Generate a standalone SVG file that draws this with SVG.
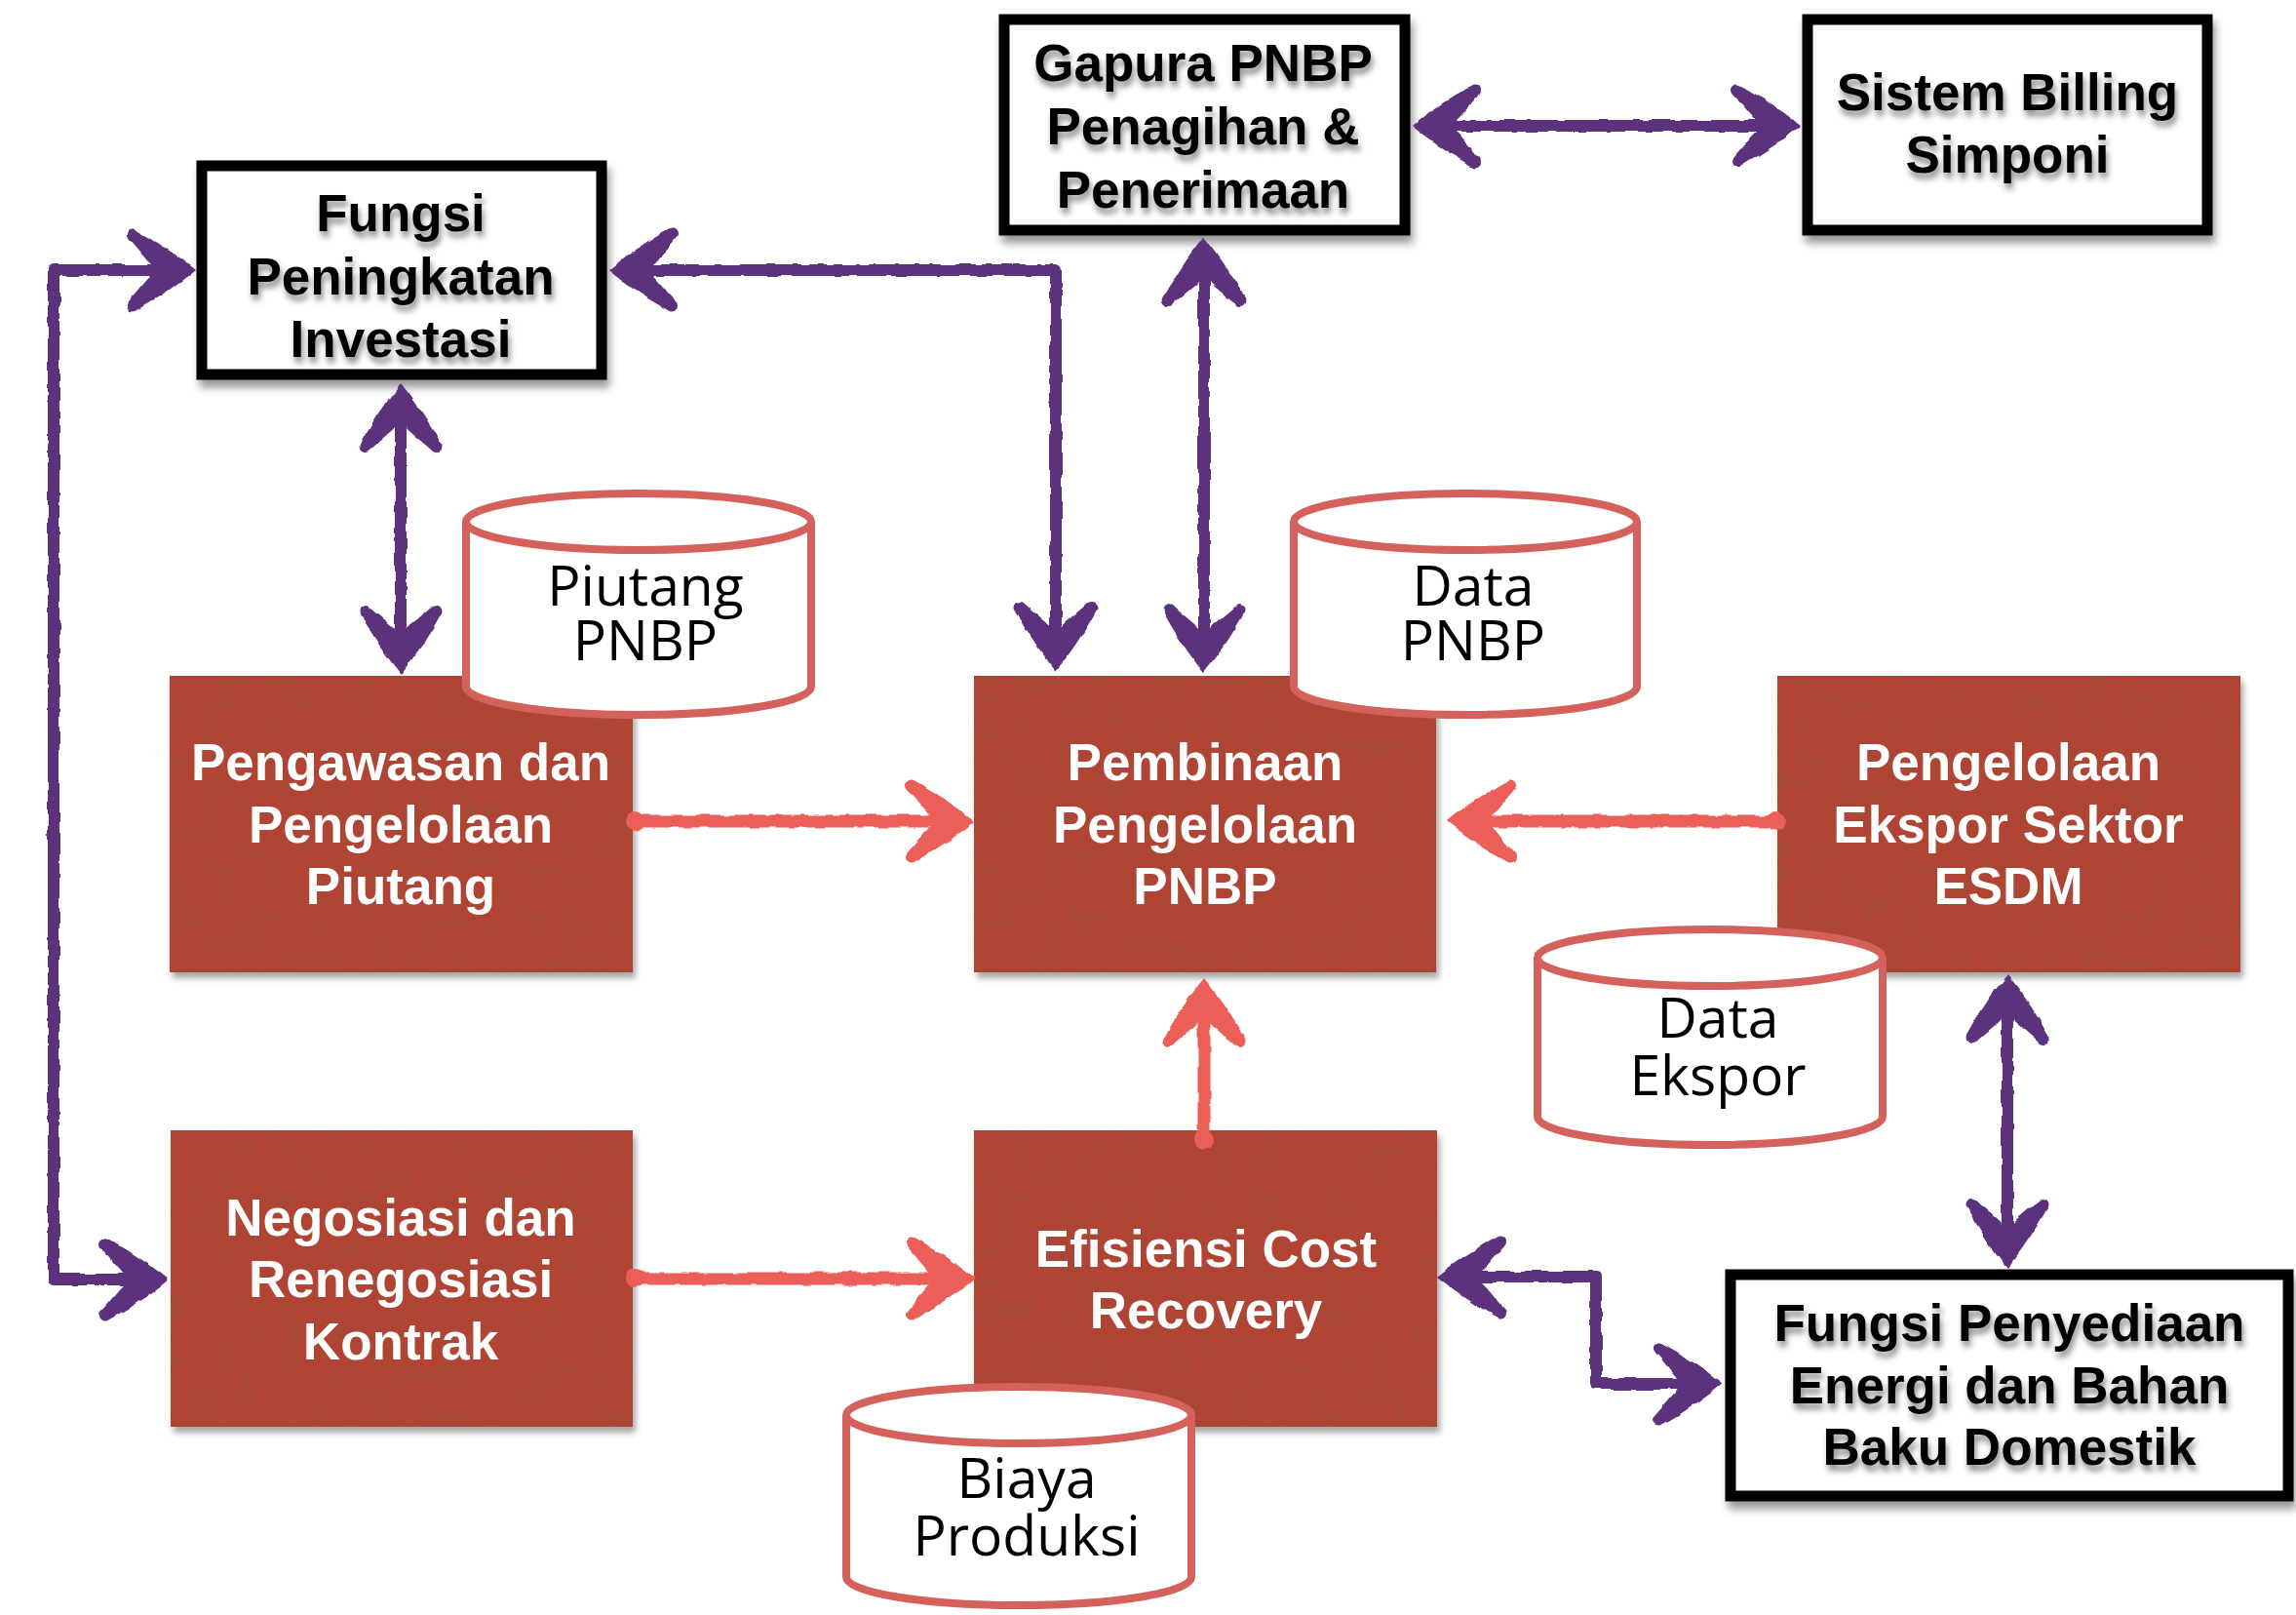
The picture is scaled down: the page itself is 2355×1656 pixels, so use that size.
<svg xmlns="http://www.w3.org/2000/svg" width="2355" height="1656" viewBox="0 0 2355 1656">
  <defs>
    <style>
      .frame { fill: #ffffff; stroke: #000000; stroke-width: 11; filter: url(#boxShadow); }
      .redbox { fill: #B04434; filter: url(#paper); }
      .btxt { font-family: "Liberation Sans", Arial, sans-serif; font-weight: bold; font-size: 53px; text-anchor: middle; }
      .dark { fill: #000000; filter: url(#textShadow); }
      .light { fill: #ffffff; }
      .cyl { fill: #ffffff; stroke: #D4615C; stroke-width: 8; stroke-linejoin: round; }
      .cyltxt { font-family: "Open Sans", "Noto Sans", sans-serif; font-size: 57px; fill: #000000; text-anchor: middle; }
      .purple { fill: none; stroke: #5D327D; stroke-width: 12; stroke-linejoin: round; marker-start: url(#headP); marker-end: url(#headP); }
      .red { fill: none; stroke: #EB5F58; stroke-width: 13; stroke-linejoin: round; marker-start: url(#dotR); marker-end: url(#headR); }
    </style>
    <filter id="boxShadow" x="-5%" y="-5%" width="112%" height="118%">
      <feDropShadow dx="3" dy="8" stdDeviation="4" flood-color="#000" flood-opacity="0.4"/>
    </filter>
    <filter id="textShadow" x="-5%" y="-20%" width="112%" height="160%">
      <feDropShadow dx="2" dy="6" stdDeviation="3" flood-color="#000" flood-opacity="0.45"/>
    </filter>
    <filter id="paper" x="-3%" y="-3%" width="108%" height="110%">
      <feTurbulence type="fractalNoise" baseFrequency="0.045" numOctaves="4" seed="7" result="noise"/>
      <feColorMatrix in="noise" type="matrix" values="0 0 0 0 0.3  0 0 0 0 0.08  0 0 0 0 0.05  0.7 0 0 0 -0.3" result="spots"/>
      <feComposite in="spots" in2="SourceAlpha" operator="in" result="tex"/>
      <feGaussianBlur in="SourceAlpha" stdDeviation="3" result="sb"/>
      <feOffset in="sb" dx="3" dy="6" result="so"/>
      <feFlood flood-color="#000" flood-opacity="0.35"/>
      <feComposite in2="so" operator="in" result="shadow"/>
      <feMerge>
        <feMergeNode in="shadow"/>
        <feMergeNode in="SourceGraphic"/>
        <feMergeNode in="tex"/>
      </feMerge>
    </filter>
    <filter id="rough" filterUnits="userSpaceOnUse" x="0" y="0" width="2355" height="1656">
      <feTurbulence type="fractalNoise" baseFrequency="0.06" numOctaves="2" seed="2" result="t"/>
      <feDisplacementMap in="SourceGraphic" in2="t" scale="5" xChannelSelector="R" yChannelSelector="G"/>
    </filter>
    <!-- swept sketch arrowhead: tip at x=46, barbs reach back to x=-22; line end sits at x=16 -->
    <marker id="headP" markerUnits="userSpaceOnUse" markerWidth="100" markerHeight="100" refX="16" refY="0" orient="auto-start-reverse" overflow="visible">
      <path fill="#5D327D" d="M46,0 C34,-10 12,-26 -15,-41 A6,6 0 0 0 -23,-32 C-12,-20 -5,-10 0,-6 L0,6 C-5,10 -12,20 -23,32 A6,6 0 0 0 -15,41 C12,26 34,10 46,0 Z"/>
    </marker>
    <marker id="headR" markerUnits="userSpaceOnUse" markerWidth="100" markerHeight="100" refX="16" refY="0" orient="auto" overflow="visible">
      <path fill="#EB5F58" d="M46,0 C34,-10 12,-26 -15,-41 A6,6 0 0 0 -23,-32 C-12,-20 -5,-10 0,-6 L0,6 C-5,10 -12,20 -23,32 A6,6 0 0 0 -15,41 C12,26 34,10 46,0 Z"/>
    </marker>
    <marker id="dotR" markerUnits="userSpaceOnUse" markerWidth="30" markerHeight="30" refX="0" refY="0" orient="auto" overflow="visible">
      <circle cx="0" cy="0" r="10" fill="#EB5F58"/>
    </marker>
  </defs>

  <rect width="2355" height="1656" fill="#ffffff"/>

  <!-- process boxes -->
  <g id="pengawasan">
    <rect class="redbox" x="174" y="693" width="475" height="304"/>
    <text class="btxt light" x="411" y="800">Pengawasan dan</text>
    <text class="btxt light" x="411" y="864">Pengelolaan</text>
    <text class="btxt light" x="411" y="927">Piutang</text>
  </g>
  <g id="pembinaan">
    <rect class="redbox" x="999" y="693" width="474" height="304"/>
    <text class="btxt light" x="1236" y="800">Pembinaan</text>
    <text class="btxt light" x="1236" y="864">Pengelolaan</text>
    <text class="btxt light" x="1236" y="927">PNBP</text>
  </g>
  <g id="ekspor">
    <rect class="redbox" x="1823" y="693" width="475" height="304"/>
    <text class="btxt light" x="2060" y="800">Pengelolaan</text>
    <text class="btxt light" x="2060" y="864">Ekspor Sektor</text>
    <text class="btxt light" x="2060" y="927">ESDM</text>
  </g>
  <g id="negosiasi">
    <rect class="redbox" x="175" y="1159" width="474" height="304"/>
    <text class="btxt light" x="411" y="1267">Negosiasi dan</text>
    <text class="btxt light" x="411" y="1330">Renegosiasi</text>
    <text class="btxt light" x="411" y="1394">Kontrak</text>
  </g>
  <g id="efisiensi">
    <rect class="redbox" x="999" y="1159" width="475" height="304"/>
    <text class="btxt light" x="1237" y="1299">Efisiensi Cost</text>
    <text class="btxt light" x="1237" y="1362">Recovery</text>
  </g>

  <!-- external function boxes -->
  <g id="fungsi-investasi">
    <rect class="frame" x="207" y="170" width="410" height="214"/>
    <g class="btxt dark">
      <text x="411" y="237">Fungsi</text>
      <text x="411" y="302">Peningkatan</text>
      <text x="411" y="366">Investasi</text>
    </g>
  </g>
  <g id="gapura">
    <rect class="frame" x="1030" y="20" width="411" height="216"/>
    <g class="btxt dark">
      <text x="1234" y="83">Gapura PNBP</text>
      <text x="1234" y="148">Penagihan &amp;</text>
      <text x="1234" y="213">Penerimaan</text>
    </g>
  </g>
  <g id="simponi">
    <rect class="frame" x="1854" y="20" width="410" height="216"/>
    <g class="btxt dark">
      <text x="2059" y="113">Sistem Billing</text>
      <text x="2059" y="177">Simponi</text>
    </g>
  </g>
  <g id="fungsi-penyediaan">
    <rect class="frame" x="1775" y="1307" width="572" height="227"/>
    <g class="btxt dark">
      <text x="2061" y="1375">Fungsi Penyediaan</text>
      <text x="2061" y="1439">Energi dan Bahan</text>
      <text x="2061" y="1502">Baku Domestik</text>
    </g>
  </g>

  <!-- connectors -->
  <g id="connectors" filter="url(#rough)">
    <path class="purple" d="M171,277 H55 V1312 H143"/>
    <path class="purple" d="M654,277 H1083 V658"/>
    <path class="purple" d="M1235,273 V660"/>
    <path class="purple" d="M411,423 V661"/>
    <path class="purple" d="M1478,129 H1817"/>
    <path class="purple" d="M2059,1029 V1270"/>
    <path class="purple" d="M1504,1309 H1637 V1419 H1737"/>
    <path class="red" d="M651,842 H970"/>
    <path class="red" d="M1822,842 H1514"/>
    <path class="red" d="M1235,1168 V1033"/>
    <path class="red" d="M651,1311 H970"/>
  </g>

  <!-- data stores -->
  <g id="piutang-pnbp">
    <path class="cyl" d="M478,535 A177,29 0 0 1 832,535 V704 A177,29 0 0 1 478,704 Z"/>
    <path class="cyl" fill="none" d="M478,535 A177,29 0 0 0 832,535"/>
    <text class="cyltxt" x="662" y="621">Piutang</text>
    <text class="cyltxt" x="662" y="677">PNBP</text>
  </g>
  <g id="data-pnbp">
    <path class="cyl" d="M1327,535 A176,29 0 0 1 1679,535 V704 A176,29 0 0 1 1327,704 Z"/>
    <path class="cyl" fill="none" d="M1327,535 A176,29 0 0 0 1679,535"/>
    <text class="cyltxt" x="1511" y="621">Data</text>
    <text class="cyltxt" x="1511" y="677">PNBP</text>
  </g>
  <g id="data-ekspor">
    <path class="cyl" d="M1577,982 A177,29 0 0 1 1931,982 V1145 A177,29 0 0 1 1577,1145 Z"/>
    <path class="cyl" fill="none" d="M1577,982 A177,29 0 0 0 1931,982"/>
    <text class="cyltxt" x="1762" y="1064">Data</text>
    <text class="cyltxt" x="1762" y="1123">Ekspor</text>
  </g>
  <g id="biaya-produksi">
    <path class="cyl" d="M868,1451 A177,29 0 0 1 1222,1451 V1617 A177,29 0 0 1 868,1617 Z"/>
    <path class="cyl" fill="none" d="M868,1451 A177,29 0 0 0 1222,1451"/>
    <text class="cyltxt" x="1053" y="1536">Biaya</text>
    <text class="cyltxt" x="1053" y="1595">Produksi</text>
  </g>
</svg>
